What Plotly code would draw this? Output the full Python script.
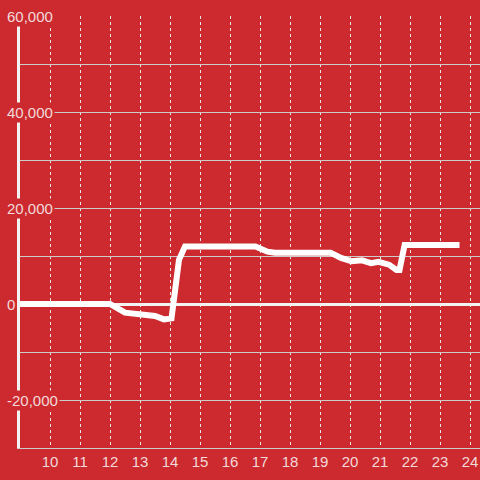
import plotly.graph_objects as go

x_vals = [9, 12.0, 12.5, 13.1, 13.5, 13.8, 14.0, 14.05, 14.3, 14.5, 16.85, 17.25, 17.5,
          19.35, 19.7, 20.05, 20.4, 20.7, 20.95, 21.3, 21.55, 21.65, 21.82, 23.65]
y_vals = [0, 0, -1800, -2100, -2500, -3200, -3000, -3000, 9200, 12000, 12000, 10900, 10700,
          10700, 9600, 8900, 9100, 8500, 8800, 8200, 7100, 7100, 12300, 12300]

x_ticks = list(range(10, 25))
y_label_vals = [60000, 40000, 20000, 0, -20000]
y_label_text = ["60,000", "40,000", "20,000", "0", "-20,000"]

BG = "#CC2A2F"
TXT = "#F3DADA"

fig = go.Figure()
fig.add_trace(go.Scatter(x=x_vals, y=y_vals, mode="lines",
                         line=dict(color="white", width=6, shape="linear"),
                         hoverinfo="skip", showlegend=False))

for v, t in zip(y_label_vals, y_label_text):
    fig.add_annotation(x=-0.032, xref="paper", y=v, yref="y", text=t, showarrow=False,
                       xanchor="left", yanchor="middle", bgcolor=BG, borderpad=1,
                       font=dict(family="Liberation Sans, Arial", size=15, color=TXT))

fig.update_layout(
    width=480, height=480,
    paper_bgcolor=BG, plot_bgcolor=BG,
    margin=dict(l=20, r=0, t=16, b=32, autoexpand=False),
    showlegend=False,
    xaxis=dict(range=[9, 24.333], tickvals=x_ticks, ticktext=[str(v) for v in x_ticks],
               showgrid=True, gridcolor="#E6E6E6", griddash="dot", gridwidth=1,
               showline=True, linecolor="#CCCCCC", linewidth=1, mirror=False,
               ticks="", zeroline=False,
               tickfont=dict(family="Liberation Sans, Arial", size=15, color=TXT)),
    yaxis=dict(range=[-30000, 60000], dtick=10000, showticklabels=False,
               showgrid=True, gridcolor="#CCCCCC", gridwidth=1,
               zeroline=True, zerolinecolor="#F2F2F2", zerolinewidth=3,
               showline=True, linecolor="#F2F2F2", linewidth=3, ticks=""),
)

fig.write_html("out.html", config={"displayModeBar": False},
               post_script="document.body.style.margin='0';document.body.style.padding='0';")
